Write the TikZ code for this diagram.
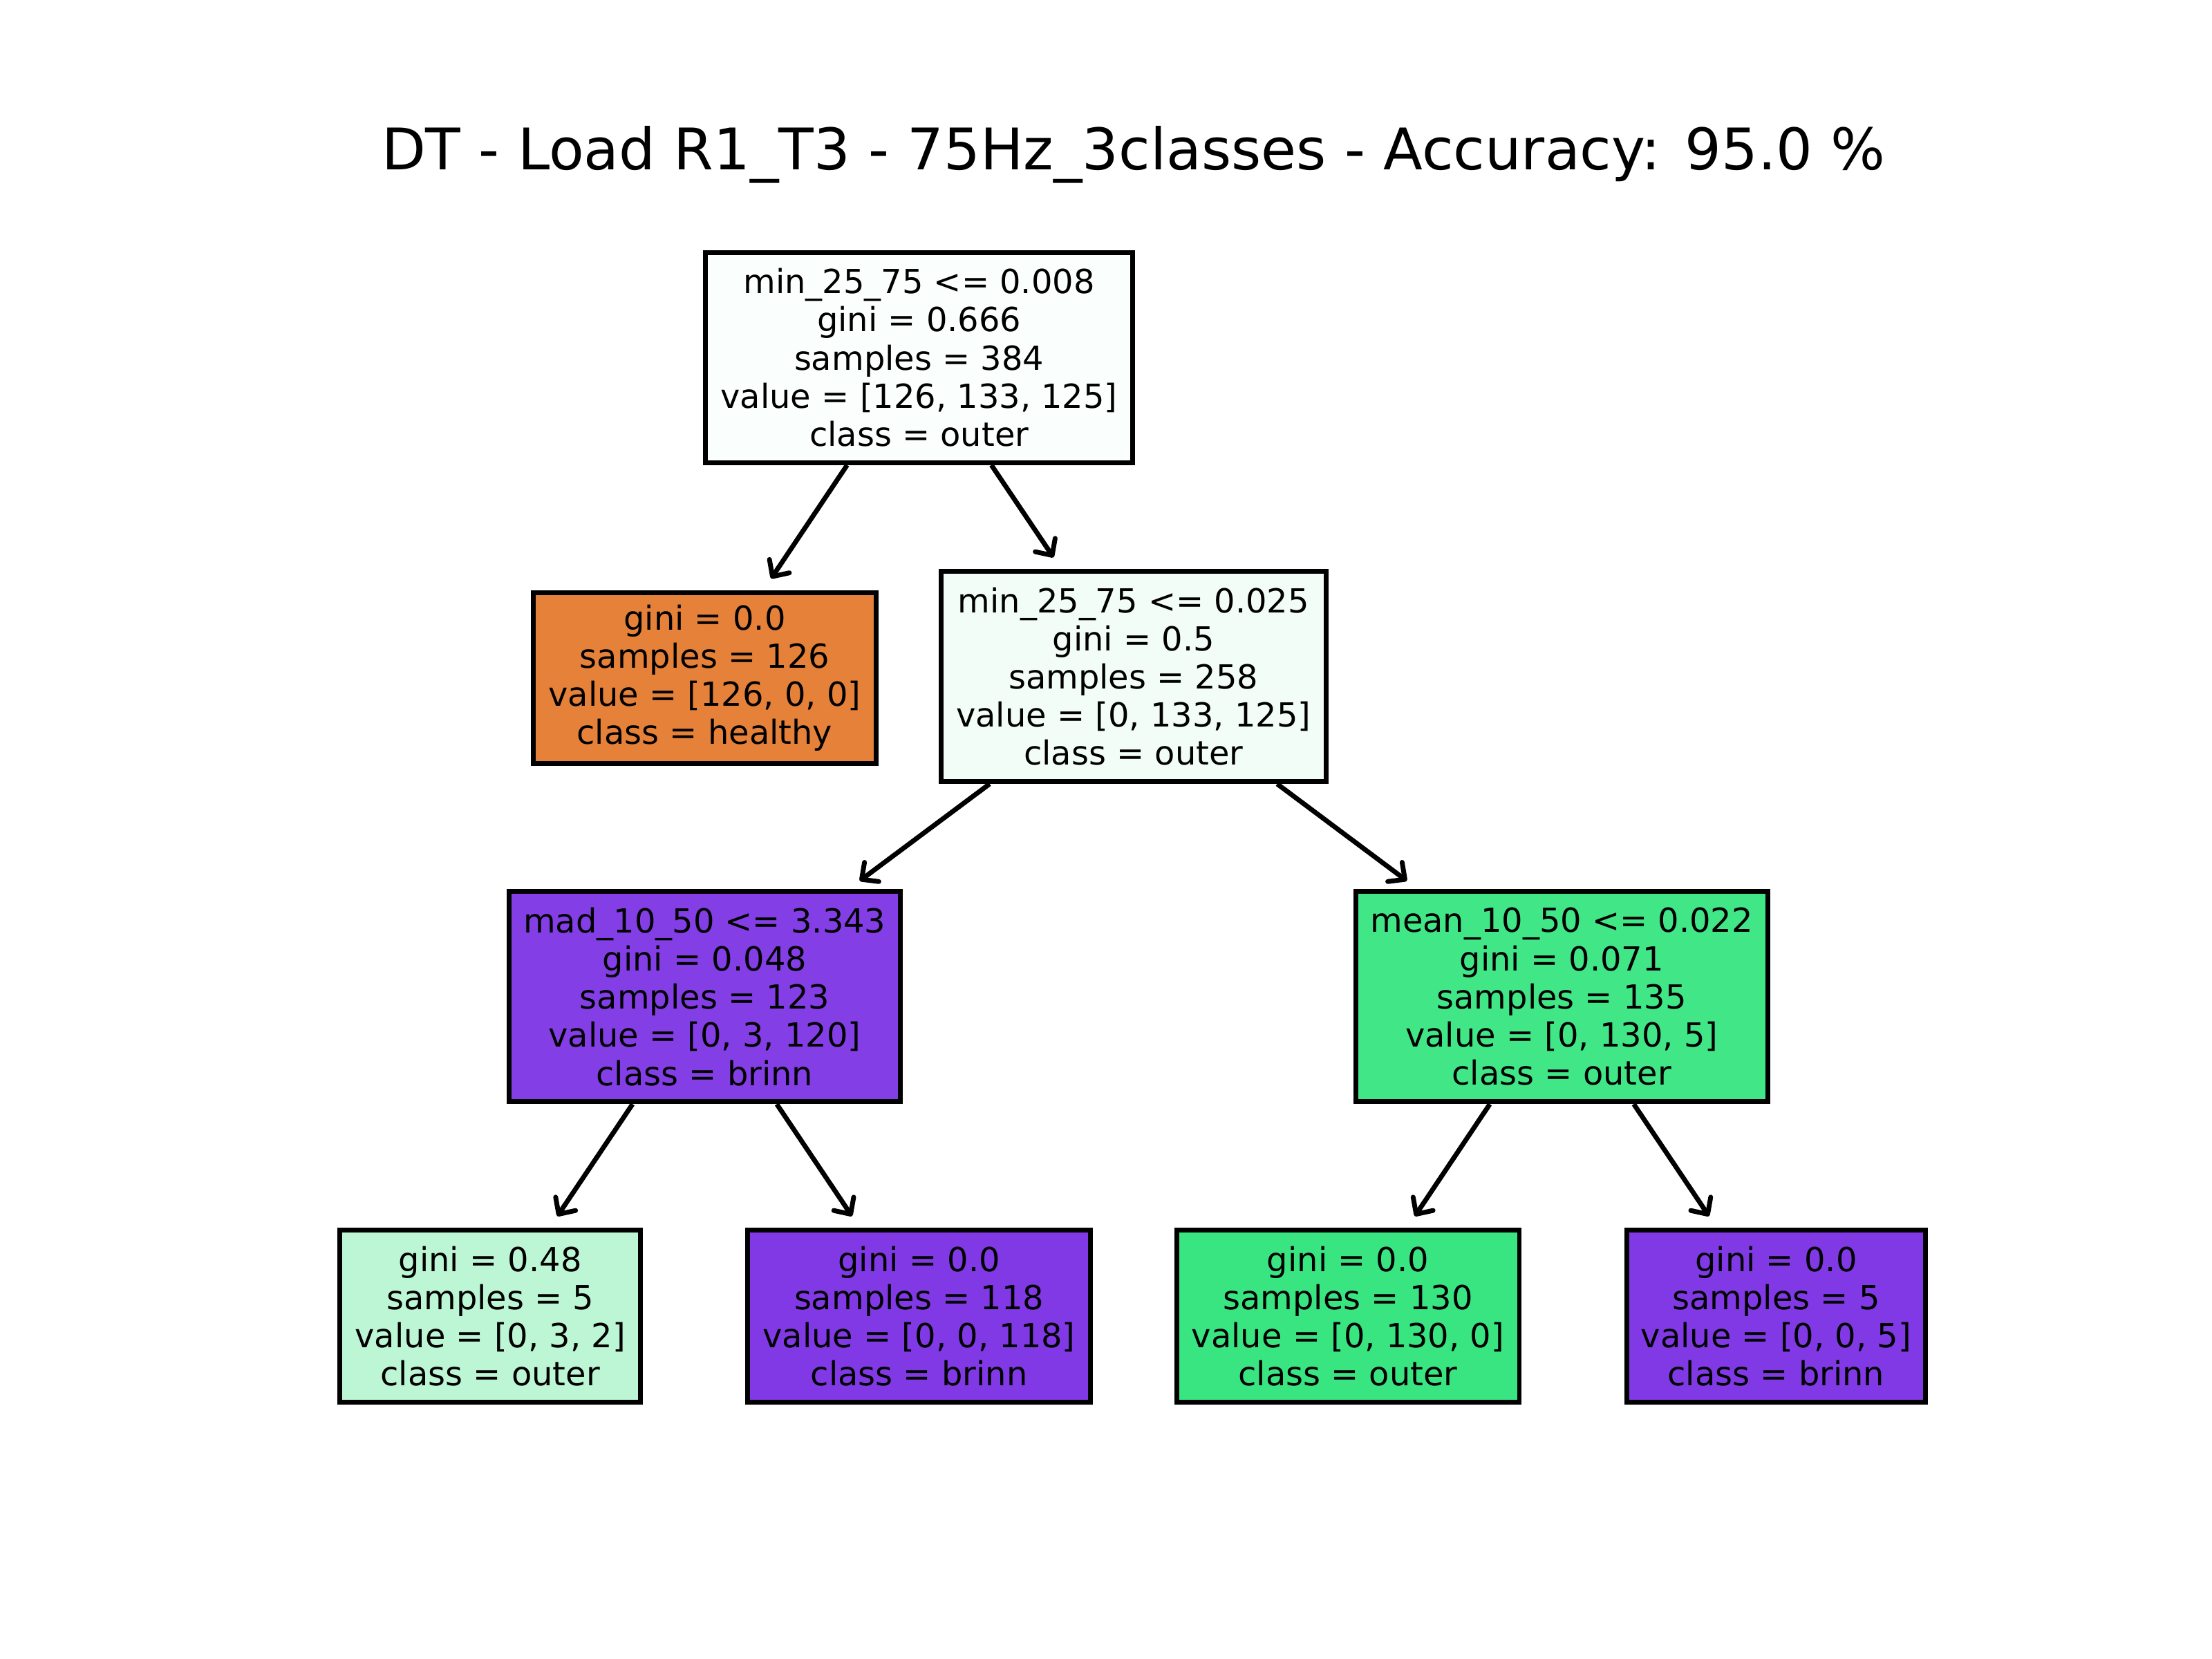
\documentclass[tikz,border=0pt]{standalone}
\usepackage{fontspec}
\setmainfont{DejaVu Sans}
\usetikzlibrary{arrows.meta}
\definecolor{rootc}{RGB}{250,254,252}
\definecolor{nodetwoc}{RGB}{243,253,247}
\definecolor{orangec}{RGB}{229,129,57}
\definecolor{purplec}{RGB}{129,57,229}
\definecolor{greenc}{RGB}{57,229,129}
\definecolor{madc}{RGB}{132,62,230}
\definecolor{meanc}{RGB}{65,230,134}
\definecolor{lightgc}{RGB}{189,246,213}
\tikzset{
  treebox/.style={draw=black, line width=1pt, align=center, inner sep=1pt,
    font=\fontsize{6.9}{7.95}\selectfont},
  bw/.style={minimum width=#1*0.2939pt},
  bh/.style={minimum height=#1*0.2939pt},
  edge/.style={line width=1pt, -{Straight Barb[length=2.6pt,width=5pt,round]}, shorten >=2.9pt}
}
\begin{document}
\begin{tikzpicture}[x=0.2939pt,y=-0.2939pt]
\useasboundingbox (0,0) rectangle (1568,1176);
\node[anchor=base, font=\fontsize{11.95}{14}\selectfont] (title) at (803.5,120.5) {DT - Load R1\_T3 - 75Hz\_3classes - Accuracy: 95.0 \%};
\node[treebox, fill=rootc, bw=303, bh=149] (root) at (651.5,253.5) {min\_25\_75 <= 0.008\\gini = 0.666\\samples = 384\\value = [126, 133, 125]\\class = outer};
\node[treebox, fill=orangec, bw=243, bh=121] (lh) at (499.5,480.5) {gini = 0.0\\samples = 126\\value = [126, 0, 0]\\class = healthy};
\node[treebox, fill=nodetwoc, bw=273, bh=149] (n2) at (803.5,479.5) {min\_25\_75 <= 0.025\\gini = 0.5\\samples = 258\\value = [0, 133, 125]\\class = outer};
\node[treebox, fill=madc, bw=277, bh=149] (mad) at (499.5,706.5) {mad\_10\_50 <= 3.343\\gini = 0.048\\samples = 123\\value = [0, 3, 120]\\class = brinn};
\node[treebox, fill=meanc, bw=292, bh=149] (mean) at (1107,706.5) {mean\_10\_50 <= 0.022\\gini = 0.071\\samples = 135\\value = [0, 130, 5]\\class = outer};
\node[treebox, fill=lightgc, bw=213, bh=122] (l1) at (347.5,933) {gini = 0.48\\samples = 5\\value = [0, 3, 2]\\class = outer};
\node[treebox, fill=purplec, bw=243, bh=122] (l2) at (651.5,933) {gini = 0.0\\samples = 118\\value = [0, 0, 118]\\class = brinn};
\node[treebox, fill=greenc, bw=243, bh=122] (l3) at (955.5,933) {gini = 0.0\\samples = 130\\value = [0, 130, 0]\\class = outer};
\node[treebox, fill=purplec, bw=212, bh=122] (l4) at (1259,933) {gini = 0.0\\samples = 5\\value = [0, 0, 5]\\class = brinn};
\draw[edge] (root) -- (lh);
\draw[edge] (root) -- (n2);
\draw[edge] (n2) -- (mad);
\draw[edge] (n2) -- (mean);
\draw[edge] (mad) -- (l1);
\draw[edge] (mad) -- (l2);
\draw[edge] (mean) -- (l3);
\draw[edge] (mean) -- (l4);
\end{tikzpicture}
\end{document}
